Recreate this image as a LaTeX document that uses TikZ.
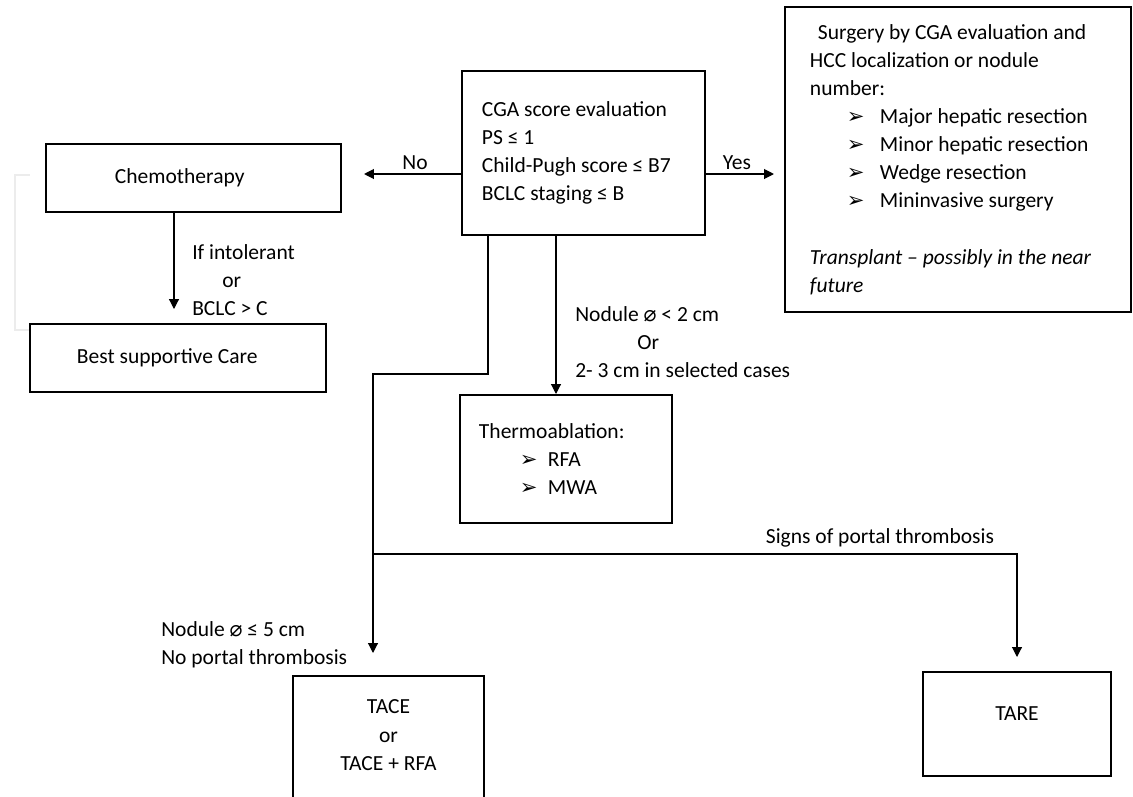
\documentclass[tikz,border=0pt]{standalone}
\usepackage{fontspec}
\setmainfont{Carlito}
\newfontfamily\symfont{DejaVu Sans}
\usetikzlibrary{positioning,arrows.meta}

\newcommand{\pointer}{{\symfont\fontsize{15pt}{15pt}\selectfont ➢}}
\newcommand{\diam}{{\symfont ⌀}}

\begin{document}
\begin{tikzpicture}[
  x=0.025cm, y=-0.025cm,
  box/.style={rectangle, draw=black, line width=1.4pt, font=\fontsize{15.3pt}{20pt}\selectfont, align=flush left},
  arrow/.style={-{Triangle[length=7pt,width=7pt]}, line width=0.8pt},
  note/.style={font=\fontsize{15.3pt}{20pt}\selectfont, align=left, inner sep=0pt}
]
\useasboundingbox (0,0) rectangle (1133,797);
\clip (0,0) rectangle (1133,797);

% Margin mark
\draw[gray!15, line width=1.2pt] (30,175) -| (15,330) -- (30,330);

% Evaluation
\node[box, minimum height=4.1cm, text width=5.075cm, inner xsep=0.5cm] (cga) at (583.5,153)
  {CGA score evaluation\\PS ≤ 1\\Child-Pugh score ≤ B7\\BCLC staging ≤ B};

% Surgery
\node[box, minimum height=7.625cm, text width=7.4cm, inner xsep=0.625cm] (surgery) at (958,159.5)
  {\hspace*{0.2cm}Surgery by CGA evaluation and\\
   HCC localization or nodule\\
   number:\\
   \hspace*{0.925cm}\makebox[0.825cm][l]{\pointer}Major hepatic resection\\
   \hspace*{0.925cm}\makebox[0.825cm][l]{\pointer}Minor hepatic resection\\
   \hspace*{0.925cm}\makebox[0.825cm][l]{\pointer}Wedge resection\\
   \hspace*{0.925cm}\makebox[0.825cm][l]{\pointer}Mininvasive surgery\\[20pt]
   {\itshape Transplant – possibly in the near}\\
   {\itshape future}};

% Chemotherapy
\node[box, minimum height=1.7cm, text width=3.925cm, inner xsep=1.725cm] (chemo) at (193.5,178) {Chemotherapy};

% Best supportive care
\node[box, minimum height=1.7cm, text width=5.05cm, inner xsep=1.175cm] (best) at (178,358) {Best supportive Care};

% Thermoablation
\node[box, minimum height=3.2cm, text width=4.35cm, inner xsep=0.475cm] (thermo) at (566,459)
  {Thermoablation:\\
   \hspace*{1.025cm}\makebox[0.7cm][l]{\pointer}RFA\\
   \hspace*{1.025cm}\makebox[0.7cm][l]{\pointer}MWA};

% TACE
\node[box, anchor=north, align=center, minimum width=4.775cm, inner ysep=0.6cm, text depth=3cm] (tace) at (388.5,675)
  {TACE\\or\\TACE + RFA};

% TARE
\node[box, anchor=north, align=center, minimum width=4.7cm, inner ysep=0pt, text height=1.2cm, text depth=1.4cm] (tare) at (1017,671) {TARE};

% Connector positions
\coordinate (noy) at (0,174);
\coordinate (cx) at (174,0);
\coordinate (tx) at (556,0);
\coordinate (lx) at (488,0);
\coordinate (bend) at (373,374);
\coordinate (split) at (373,554);

% No / Yes
\draw[arrow, shorten >=0.55cm] (cga.west |- noy) -- (chemo.east |- noy);
\draw[arrow, shorten >=0.25cm] (cga.east |- noy) -- (surgery.west |- noy);
\node[note] (nolbl) at (415,163) {No};
\node[note] (yeslbl) at (737,163) {Yes};

% Chemotherapy to best care
\draw[arrow, shorten >=0.35cm] (chemo.south -| cx) -- (best.north -| cx);
\node[note, anchor=west] (chemolbl) at (192,280) {If intolerant\\\hspace*{0.75cm}or\\BCLC > C};

% Thermoablation branch
\draw[arrow] (cga.south -| tx) -- (thermo.north -| tx);
\node[note, anchor=west] (thermolbl) at (575,342) {Nodule \diam{} < 2 cm\\\hspace*{1.55cm}Or\\2- 3 cm in selected cases};

% TACE and TARE branches
\draw[arrow, shorten >=0.55cm] (cga.south -| lx) |- (bend) -- (tace.north -| bend);
\draw[arrow, shorten >=0.35cm] (split) -| (tare.north);
\node[note, anchor=west] (tacelbl) at (161,645) {Nodule \diam{} ≤ 5 cm\\No portal thrombosis};
\node[note] (tarelbl) at (880,538) {Signs of portal thrombosis};

\end{tikzpicture}
\end{document}
